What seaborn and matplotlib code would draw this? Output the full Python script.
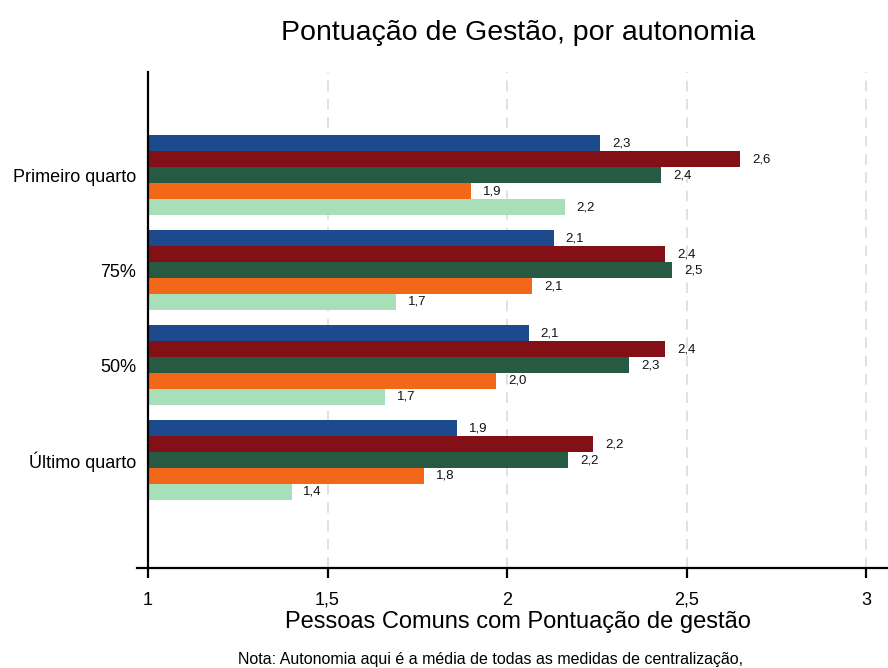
import pandas as pd
import matplotlib
matplotlib.use('Agg')
import matplotlib.pyplot as plt
import seaborn as sns
from matplotlib.ticker import FuncFormatter

# grupos de autonomia e series
groups = ['Primeiro quarto', '75%', '50%', 'Último quarto']
series = ['Série 1', 'Série 2', 'Série 3', 'Série 4', 'Série 5']
colors = ['#1c4a8c', '#821016', '#265a42', '#f26718', '#a6dfb8']

s1 = [2.26, 2.13, 2.06, 1.86]
s2 = [2.65, 2.44, 2.44, 2.24]
s3 = [2.43, 2.46, 2.34, 2.17]
s4 = [1.90, 2.07, 1.97, 1.77]
s5 = [2.16, 1.69, 1.66, 1.40]

rows = []
for name, vals in zip(series, [s1, s2, s3, s4, s5]):
    for g, v in zip(groups, vals):
        rows.append({'grupo': g, 'serie': name, 'valor': v})
df = pd.DataFrame(rows)

sns.set_style('white')
plt.rcParams['font.family'] = ['Liberation Sans', 'DejaVu Sans']
plt.rcParams['text.color'] = 'black'
plt.rcParams['xtick.color'] = 'black'
plt.rcParams['ytick.color'] = 'black'
plt.rcParams['axes.labelcolor'] = 'black'

fig = plt.figure(figsize=(8.88, 6.68), dpi=100)
ax = fig.add_axes([0.1667, 0.1497, 0.8333, 0.7423])

sns.barplot(data=df, x='valor', y='grupo', hue='serie', order=groups,
            hue_order=series, palette=colors, orient='h', width=0.84,
            saturation=1, linewidth=0, legend=False, ax=ax)

for cont in ax.containers:
    labels = [f"{b.get_width():.1f}".replace('.', ',') for b in cont]
    ax.bar_label(cont, labels=labels, padding=8.5, fontsize=9.5, color='#111111')

ax.set_xlim(1, 3.061)
ax.set_ylim(4.137, -1.084)
ax.set_xticks([1, 1.5, 2, 2.5, 3])
ax.xaxis.set_major_formatter(FuncFormatter(lambda v, p: f"{v:g}".replace('.', ',')))

for v in [1.5, 2, 2.5, 3]:
    ax.axvline(v, color='#d9d9d9', lw=1.1, ls=(0, (7, 5)), zorder=0)

for s in ['top', 'right']:
    ax.spines[s].set_visible(False)
ax.spines['left'].set_color('black')
ax.spines['left'].set_linewidth(1.6)
ax.spines['bottom'].set_color('black')
ax.spines['bottom'].set_linewidth(1.6)
ax.spines['bottom'].set_bounds(0.97, 3.061)

ax.tick_params(axis='x', length=7, width=1.6, pad=10, labelsize=13, direction='out',
               bottom=True, color='black')
ax.tick_params(axis='y', length=0, pad=8.5, labelsize=13)

ax.set_ylabel('')
ax.set_xlabel('Pessoas Comuns com Pontuação de gestão', fontsize=17, labelpad=2)
ax.set_title('Pontuação de Gestão, por autonomia', fontsize=20.5, pad=23)

fig.text(0.552, 0.002, 'Nota: Autonomia aqui é a média de todas as medidas de centralização,',
         ha='center', va='bottom', fontsize=11.5)

fig.savefig('out.png', dpi=100)
